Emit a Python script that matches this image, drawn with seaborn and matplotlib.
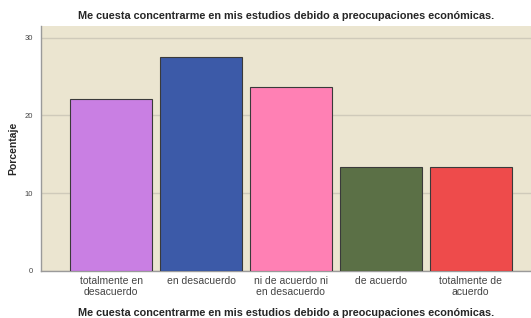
import matplotlib
matplotlib.use('Agg')
import matplotlib.pyplot as plt
import seaborn as sns
import pandas as pd

# ── Data ──────────────────────────────────────────────────────────────────
categorias = ['totalmente en\ndesacuerdo', 'en desacuerdo',
              'ni de acuerdo ni\nen desacuerdo', 'de acuerdo',
              'totalmente de\nacuerdo']
porcentajes = [22.1, 27.5, 23.6, 13.4, 13.4]
colores = ['#C97FE3', '#3C5AA8', '#FF80B4', '#5B7046', '#EE4B4B']

titulo = 'Me cuesta concentrarme en mis estudios debido a preocupaciones económicas.'

df = pd.DataFrame({'cat': categorias, 'pct': porcentajes})

# ── Styling ───────────────────────────────────────────────────────────────
sns.set_style('white')
plt.rcParams['font.family'] = ['Liberation Sans', 'DejaVu Sans']
BG = '#EBE5D0'

fig = plt.figure(figsize=(5.31, 3.18), dpi=100)
ax = fig.add_axes([0.077, 0.148, 0.923, 0.770])
ax.set_facecolor(BG)

sns.barplot(data=df, x='cat', y='pct', hue='cat', palette=colores,
            saturation=1, legend=False, width=0.91,
            edgecolor='#3a3a3a', linewidth=0.8, ax=ax, zorder=3)

ax.set_xlim(-0.78, 4.67)
ax.set_ylim(0, 31.5)
ax.set_yticks([0, 10, 20, 30])
ax.yaxis.grid(True, color='#CFCABA', linewidth=1.0, zorder=0)
ax.set_axisbelow(True)

for side in ['top', 'right']:
    ax.spines[side].set_visible(False)
for side in ['left', 'bottom']:
    ax.spines[side].set_color('#9a9a9a')
    ax.spines[side].set_linewidth(1.0)

ax.tick_params(axis='y', labelsize=5.5, colors='#444444', length=0, pad=6)
ax.tick_params(axis='x', labelsize=7.5, colors='#444444', length=0, pad=4)
for lbl in ax.get_xticklabels():
    lbl.set_linespacing(1.1)

ax.set_ylabel('Porcentaje', fontsize=7.5, fontweight='bold', labelpad=4)
ax.set_xlabel(titulo, fontsize=7.8, fontweight='bold', labelpad=8)
ax.set_title(titulo, fontsize=7.8, fontweight='bold', pad=5)

plt.savefig('out.png', dpi=100)
plt.close()
